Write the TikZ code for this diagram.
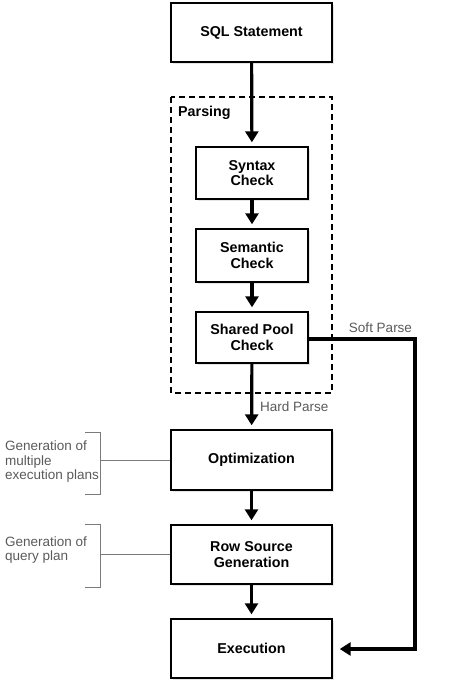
\documentclass[tikz,border=0pt]{standalone}
\usepackage{fontspec}
\setmainfont{Liberation Sans}
\usetikzlibrary{arrows.meta,shadows}

\definecolor{notegray}{HTML}{5A5A5A}

\tikzset{
  stagebox/.style={draw, line width=1.4pt, fill=white, align=center,
    font=\fontsize{14.3}{15.5}\selectfont\bfseries,
    drop shadow={shadow xshift=2pt, shadow yshift=-2pt, fill=black!20}},
  flow/.style={line width=3.2pt, -{Triangle[length=11pt,width=13pt]}, shorten >=4pt},
  notetext/.style={text=notegray, align=left, inner sep=0pt,
    font=\fontsize{13.5}{14.5}\selectfont},
  bracket/.style={draw=notegray!80, line width=0.7pt}
}

\begin{document}
\begin{tikzpicture}[x=1pt, y=-1pt]
  \useasboundingbox (0,0) rectangle (474,686);

  % parsing region
  \draw[dashed, line width=1.3pt, dash pattern=on 6pt off 4pt] (171,97) rectangle (332,393);
  \node[anchor=west, inner sep=0pt, font=\fontsize{14.3}{15}\selectfont\bfseries] (parsing) at (178,113) {Parsing};

  % stages
  \node[stagebox, minimum width=161pt, minimum height=59pt] (sql) at (251.5,32.5) {SQL Statement};
  \node[stagebox, minimum width=112pt, minimum height=52pt] (syntax) at (252,173) {Syntax\\Check};
  \node[stagebox, minimum width=112pt, minimum height=53pt] (semantic) at (252,255.5) {Semantic\\Check};
  \node[stagebox, minimum width=112pt, minimum height=51pt] (pool) at (252,337.5) {Shared Pool\\Check};
  \node[stagebox, minimum width=161pt, minimum height=60pt] (opt) at (251.5,460) {Optimization};
  \node[stagebox, minimum width=161pt, minimum height=59pt] (rsg) at (251.5,554.5) {Row Source\\Generation};
  \node[stagebox, minimum width=161pt, minimum height=59pt] (exec) at (251.5,648.5) {Execution};

  % main flow
  \draw[flow] (sql) -- (syntax);
  \draw[flow] (syntax) -- (semantic);
  \draw[flow] (semantic) -- (pool);
  \draw[flow] (pool) -- (opt);
  \draw[flow] (opt) -- (rsg);
  \draw[flow] (rsg) -- (exec);
  \node[notetext, anchor=west] (hard) at (260,407) {Hard Parse};

  % soft parse shortcut
  \coordinate (softtop) at (415,339);
  \coordinate (softbot) at (415,649);
  \draw[flow, shorten >=7pt] (pool.east |- softtop) -- (softtop) -- (softbot) -- (exec.east |- softbot);
  \node[notetext, anchor=south] (soft) at (380.5,333) {Soft Parse};

  % side notes
  \draw[bracket] (85,432) -- (100,432) -- (100,494) -- (85,494);
  \draw[bracket] (opt.west) -- (opt.west -| 100,0);
  \node[notetext, anchor=west] (plans) at (5,462) {Generation of\\multiple\\execution plans};

  \draw[bracket] (85,524) -- (100,524) -- (100,587) -- (85,587);
  \draw[bracket] (rsg.west) -- (rsg.west -| 100,0);
  \node[notetext, anchor=west] (query) at (5,550) {Generation of\\query plan};
\end{tikzpicture}
\end{document}
